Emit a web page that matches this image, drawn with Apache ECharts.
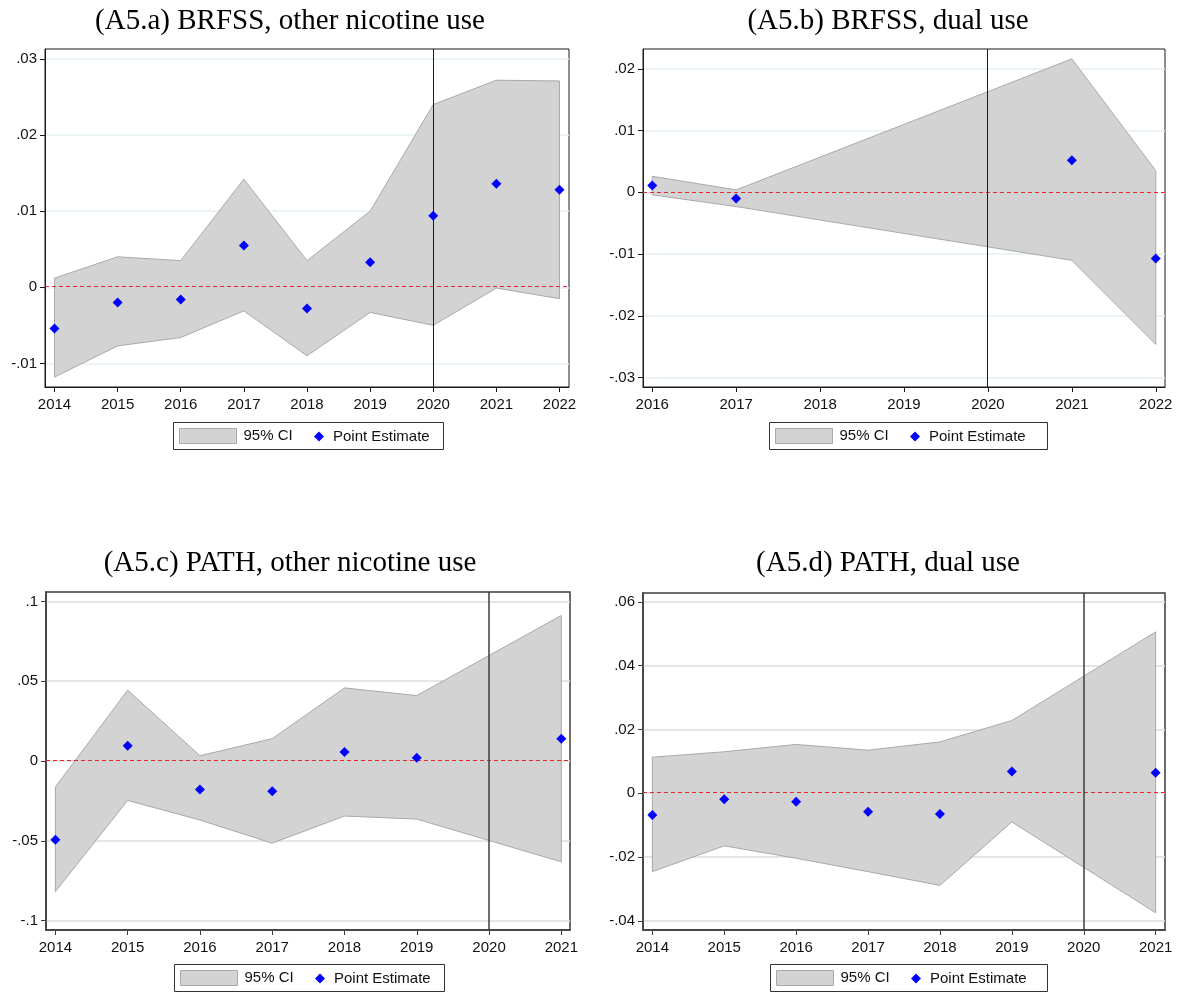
<!DOCTYPE html>
<html><head><meta charset="utf-8">
<script src="https://cdn.jsdelivr.net/npm/echarts@6/dist/echarts.min.js"></script>
<style>html,body{margin:0;padding:0;background:#fff}#c{width:1180px;height:992px}</style>
</head><body><div id="c"></div><script>
// ---------- DATA ----------
const titleA = '(A5.a) BRFSS, other nicotine use';
const titleB = '(A5.b) BRFSS, dual use';
const titleC = '(A5.c) PATH, other nicotine use';
const titleD = '(A5.d) PATH, dual use';

const yearsA = [2014, 2015, 2016, 2017, 2018, 2019, 2020, 2021, 2022];
const pointA = [-0.0054, -0.0020, -0.0016, 0.0055, -0.0028, 0.0033, 0.0094, 0.0136, 0.0128];
const upperA = [0.0012, 0.0040, 0.0035, 0.0142, 0.0035, 0.0100, 0.0240, 0.0272, 0.0271];
const lowerA = [-0.0118, -0.0077, -0.0066, -0.0031, -0.0090, -0.0033, -0.0050, -0.0001, -0.0015];
const xTicksA = [2014, 2015, 2016, 2017, 2018, 2019, 2020, 2021, 2022];
const yTicksA = [-0.01, 0, 0.01, 0.02, 0.03];

const yearsB = [2016, 2017, 2021, 2022];
const pointB = [0.0011, -0.0010, 0.0052, -0.0107];
const upperB = [0.0026, 0.0004, 0.0216, 0.0035];
const lowerB = [-0.0004, -0.0023, -0.0110, -0.0246];
const xTicksB = [2016, 2017, 2018, 2019, 2020, 2021, 2022];
const yTicksB = [-0.03, -0.02, -0.01, 0, 0.01, 0.02];

const yearsC = [2014, 2015, 2016, 2017, 2018, 2019, 2021];
const pointC = [-0.0494, 0.0096, -0.0178, -0.0190, 0.0056, 0.0021, 0.0140];
const upperC = [-0.0163, 0.0444, 0.0033, 0.0140, 0.0458, 0.0410, 0.0912];
const lowerC = [-0.0818, -0.0247, -0.0370, -0.0515, -0.0345, -0.0364, -0.0632];
const xTicksC = [2014, 2015, 2016, 2017, 2018, 2019, 2020, 2021];
const yTicksC = [-0.1, -0.05, 0, 0.05, 0.1];

const yearsD = [2014, 2015, 2016, 2017, 2018, 2019, 2021];
const pointD = [-0.0068, -0.0019, -0.0027, -0.0058, -0.0065, 0.0068, 0.0064];
const upperD = [0.0113, 0.0130, 0.0153, 0.0135, 0.0161, 0.0228, 0.0506];
const lowerD = [-0.0246, -0.0165, -0.0204, -0.0246, -0.0289, -0.0090, -0.0375];
const xTicksD = [2014, 2015, 2016, 2017, 2018, 2019, 2020, 2021];
const yTicksD = [-0.04, -0.02, 0, 0.02, 0.04, 0.06];

const policyYear = 2020;
const zeroLine = 0;
const ciName = '95% CI';
const ptName = 'Point Estimate';

// ---------- LAYOUT / STYLE ----------
const SANS = 'Liberation Sans, Arial, Helvetica, sans-serif';
const SERIF = 'Liberation Serif, Times New Roman, serif';
const lightStyle = {frame: '#1a1a1a', frameW: 1, grid: '#e6eff0'};
const darkStyle = {frame: '#3c3c3c', frameW: 1.5, grid: '#dcdcdc'};
const RED = '#e8282b';

const panels = [
  {title: titleA, years: yearsA, point: pointA, upper: upperA, lower: lowerA, xTicks: xTicksA, yTicks: yTicksA,
   grid: {left: 45, top: 49, width: 524, height: 338}, xr: [2013.85, 2022.15], yr: [-0.0131, 0.0313],
   tx: 290, ty: 21, lg: {left: 173, top: 422, width: 270}, st: lightStyle},
  {title: titleB, years: yearsB, point: pointB, upper: upperB, lower: lowerB, xTicks: xTicksB, yTicks: yTicksB,
   grid: {left: 643, top: 49, width: 522, height: 338}, xr: [2015.89, 2022.11], yr: [-0.0315, 0.0232],
   tx: 888, ty: 21, lg: {left: 769, top: 422, width: 278}, st: lightStyle},
  {title: titleC, years: yearsC, point: pointC, upper: upperC, lower: lowerC, xTicks: xTicksC, yTicks: yTicksC,
   grid: {left: 46, top: 592, width: 524, height: 338}, xr: [2013.87, 2021.12], yr: [-0.1059, 0.1059],
   tx: 290, ty: 563, lg: {left: 174, top: 964, width: 270}, st: darkStyle},
  {title: titleD, years: yearsD, point: pointD, upper: upperD, lower: lowerD, xTicks: xTicksD, yTicks: yTicksD,
   grid: {left: 643, top: 593, width: 522, height: 337}, xr: [2013.87, 2021.13], yr: [-0.0429, 0.0628],
   tx: 888, ty: 563, lg: {left: 770, top: 964, width: 277}, st: darkStyle}
];

function fmtY(v) {
  if (v === 0) return '0';
  return String(v).replace(/^(-?)0\./, '$1.');
}
function crisp(v, w) {
  return (Math.round(w) % 2 === 1) ? Math.floor(v) + 0.5 : Math.round(v);
}
// 1px line centred on the nearest even pixel row (keeps thin coloured lines saturated)
function evenRow(v) {
  return Math.round((v - 0.5) / 2) * 2 + 0.5;
}

const option = {
  animation: false,
  backgroundColor: '#ffffff',
  title: [], grid: [], xAxis: [], yAxis: [], series: [], legend: [], graphic: []
};

panels.forEach((p, i) => {
  const st = p.st;
  option.title.push({
    text: p.title, left: p.tx, top: p.ty, textAlign: 'center', textVerticalAlign: 'middle', padding: 0,
    textStyle: {fontFamily: SERIF, fontSize: 29, fontWeight: 'normal', color: '#000'}
  });
  option.grid.push(Object.assign({
    show: true, borderColor: st.frame, borderWidth: st.frameW, backgroundColor: 'transparent',
    containLabel: false, outerBoundsMode: 'none'
  }, p.grid));
  option.xAxis.push({
    type: 'value', gridIndex: i, min: p.xr[0], max: p.xr[1],
    axisLine: {show: true, onZero: false, lineStyle: {color: st.frame, width: st.frameW}},
    axisTick: {show: true, inside: false, length: 5, customValues: p.xTicks, lineStyle: {color: st.frame, width: 1}},
    axisLabel: {customValues: p.xTicks, margin: 10, fontSize: 15, fontFamily: SANS, color: '#111',
      formatter: v => String(Math.round(v))},
    splitLine: {show: false}
  });
  option.yAxis.push({
    type: 'value', gridIndex: i, min: p.yr[0], max: p.yr[1],
    axisLine: {show: true, onZero: false, lineStyle: {color: st.frame, width: st.frameW}},
    axisTick: {show: true, inside: false, length: 5, customValues: p.yTicks, lineStyle: {color: st.frame, width: 1}},
    axisLabel: {customValues: p.yTicks, margin: 8, fontSize: 15, fontFamily: SANS, color: '#111', formatter: fmtY},
    splitLine: {show: true, lineStyle: {color: st.grid, width: 1.5}}
  });
  const bandData = p.years.map((y, k) => [y, p.lower[k], p.upper[k]]);
  option.series.push({
    type: 'custom', name: ciName, xAxisIndex: i, yAxisIndex: i, z: 1, clip: true,
    itemStyle: {color: '#d3d3d3'},
    data: bandData,
    encode: {x: 0, y: [1, 2]},
    renderItem: function (params, api) {
      if (params.dataIndex !== 0) return null;
      const pts = [];
      for (let k = 0; k < bandData.length; k++) pts.push(api.coord([bandData[k][0], bandData[k][2]]));
      for (let k = bandData.length - 1; k >= 0; k--) pts.push(api.coord([bandData[k][0], bandData[k][1]]));
      return {type: 'polygon', shape: {points: pts},
        style: {fill: '#d3d3d3', stroke: '#a9a9a9', lineWidth: 1}};
    }
  });
  // reference lines: zero (red dashed) and policy year (solid)
  option.series.push({
    type: 'custom', name: 'refLines' + i, xAxisIndex: i, yAxisIndex: i, z: 2, clip: false, silent: true,
    data: [[policyYear, zeroLine]],
    encode: {x: 0, y: 1},
    renderItem: function (params, api) {
      const cs = params.coordSys;
      const c = api.coord([api.value(0), api.value(1)]);
      const y0 = evenRow(c[1]);
      const xv = crisp(c[0], st.frameW);
      return {
        type: 'group',
        children: [
          {type: 'line', shape: {x1: cs.x, y1: y0, x2: cs.x + cs.width, y2: y0},
           style: {stroke: RED, lineWidth: 1, lineDash: [4, 3]}},
          {type: 'line', shape: {x1: xv, y1: cs.y, x2: xv, y2: cs.y + cs.height},
           style: {stroke: st.frame, lineWidth: st.frameW}}
        ]
      };
    }
  });
  option.series.push({
    type: 'scatter', name: ptName, xAxisIndex: i, yAxisIndex: i, z: 3,
    symbol: 'diamond', symbolSize: 10, itemStyle: {color: '#0000ff', opacity: 1},
    data: p.years.map((y, k) => [y, p.point[k]])
  });
  const L = p.lg.left, T = p.lg.top;
  option.legend.push({
    data: [{name: ciName, icon: 'rect', itemStyle: {color: '#d3d3d3', borderColor: '#a9a9a9', borderWidth: 1, opacity: 1}}],
    left: L + 6, top: T + 6, itemWidth: 57, itemHeight: 15, padding: 0, selectedMode: false,
    textStyle: {fontSize: 15, fontFamily: SANS, color: '#111', padding: [2, 0, 0, 2]}
  });
  option.legend.push({
    data: [{name: ptName, icon: 'diamond', itemStyle: {color: '#0000ff', opacity: 1}}],
    left: L + 141, top: T + 7, itemWidth: 10, itemHeight: 10, padding: 0, selectedMode: false,
    textStyle: {fontSize: 15, fontFamily: SANS, color: '#111', padding: [0, 0, 0, 4]}
  });
  option.graphic.push({
    type: 'rect', silent: true, z: 0,
    shape: {x: L + 0.5, y: T + 0.5, width: p.lg.width, height: 27},
    style: {fill: 'none', stroke: '#333', lineWidth: 1}
  });
});

const chart = echarts.init(document.getElementById('c'), null, {renderer: 'canvas'});
chart.setOption(option);
</script></body></html>
